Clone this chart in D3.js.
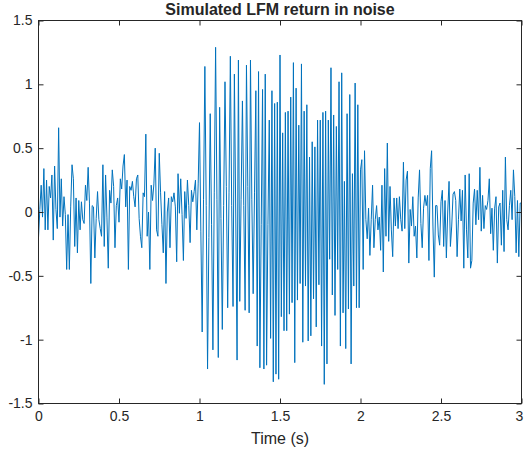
<!DOCTYPE html>
<html>
<head>
<meta charset="utf-8">
<script src="https://cdn.jsdelivr.net/npm/d3@7"></script>
<style>
  html, body { margin: 0; padding: 0; background: #fff; }
  svg { display: block; }
  text { font-family: "Liberation Sans", Arial, Helvetica, sans-serif; fill: #262626; }
</style>
</head>
<body>
<svg id="chart" width="524" height="454"></svg>
<script>
// ---- data ----
const sampleRate = 120; // samples per second
const noiseBefore = [
  -0.20,0.02,0.21,-0.04,0.34,-0.14,0.25,-0.14,0.20,
  0.11,0.29,-0.22,0.36,0.02,-0.13,0.66,-0.04,0.26,-0.11,
  0.12,-0.02,-0.45,-0.02,-0.45,0.04,0.37,0.26,-0.27,0.11,
  -0.32,0.09,-0.14,0.08,-0.06,-0.09,0.21,0.09,0.35,0.07,
  -0.56,0.05,0.04,-0.36,-0.05,0.16,-0.06,-0.13,-0.19,0.37,
  -0.27,0.29,-0.04,-0.44,0.17,0.07,0.33,0.20,-0.28,0.05,
  0.11,-0.08,0.26,0.18,0.36,0.45,0.04,0.25,-0.45,
  0.20,0.17,0.24,0.12,0.04,0.26,0.29,-0.05,-0.19,
  -0.28,0.15,0.12,0.61,-0.19,0.00,-0.45,0.21,0.09,0.22,
  0.50,-0.14,-0.19,0.46,0.15,-0.10,-0.32,0.16,-0.56,0.00,
  0.11,-0.28,0.12,0.08,0.15,0.04,-0.39,0.30,-0.01,0.26,
  -0.02,-0.38,0.16,-0.05,0.25,0.05,-0.24,0.17,0.08,0.16,
  0.25,-0.14,0.22
];
const lfmPulse = [
  0.70,-0.15,-0.94,0.10,1.14,0.05,-1.23,-0.20,0.77,-0.10,
  -1.08,0.15,1.29,0.10,-1.14,0.82,-0.05,-0.92,0.05,1.02,
  0.20,-0.75,0.15,1.22,0.05,-0.74,1.08,0.00,-1.16,1.19,
  -0.70,0.10,0.87,0.05,-0.77,1.15,0.20,-0.79,1.19,0.10,
  -0.64,0.15,0.95,-1.05,1.10,-1.22,-0.10,0.96,-1.23,1.08,
  -1.20,-0.10,0.72,-0.99,0.95,-1.33,0.85,-1.27,0.86,-1.31,
  1.23,-0.82,0.62,-0.93,0.78,-0.93,0.79,-0.80,0.90,-0.71,
  1.17,-1.18,0.97,-0.69,0.68,-0.56,1.16,-1.02,0.79,-0.58,
  0.84,-1.01,0.43,-0.97,0.55,-0.68,0.51,-0.90,0.72,-0.57,
  0.72,-1.05,0.78,-1.35,0.79,-1.19,0.72,-0.37,1.13,-0.65,
  0.76,-0.81,0.67,-0.45,1.02,-1.05,1.09,-0.79,0.24,-1.07,
  0.77,-0.76,0.92,-1.19,0.30,-0.58,1.01,-0.75,0.84,-0.75
];
const noiseAfter = [
  0.33,0.41,-0.45,0.48,-0.06,-0.21,0.03,-0.34,-0.06,
  0.21,-0.28,-0.06,0.05,-0.14,-0.04,-0.30,0.21,-0.47,0.34,
  -0.19,0.54,-0.23,0.20,-0.14,-0.35,0.11,-0.11,0.11,-0.13,
  0.12,-0.06,-0.15,0.39,-0.13,0.25,0.32,-0.40,0.02,-0.11,
  0.12,-0.19,-0.11,-0.36,0.11,0.33,-0.09,-0.28,0.03,
  0.13,0.05,0.13,-0.38,0.34,0.48,-0.11,-0.51,0.05,
  0.05,-0.18,-0.26,0.08,0.17,-0.27,0.09,-0.36,0.00,
  0.24,-0.27,-0.11,0.14,0.16,0.09,-0.35,-0.06,0.18,
  -0.07,0.17,-0.44,0.29,-0.14,-0.36,0.30,-0.44,-0.38,0.07,
  0.18,-0.10,0.17,-0.06,0.35,-0.15,0.13,-0.13,0.05,
  0.02,0.09,0.26,-0.17,0.03,-0.30,0.03,0.12,-0.40,0.04,
  0.07,-0.26,0.17,-0.31,0.43,-0.06,-0.14,0.05,0.17,-0.06,
  0.33,0.12,-0.32,0.09,-0.35,0.07,0.07
];
const xTickValues = [0, 0.5, 1, 1.5, 2, 2.5, 3];
const xTickLabels = ["0", "0.5", "1", "1.5", "2", "2.5", "3"];
const yTickValues = [-1.5, -1, -0.5, 0, 0.5, 1, 1.5];
const yTickLabels = ["-1.5", "-1", "-0.5", "0", "0.5", "1", "1.5"];
const titleText = "Simulated LFM return in noise";
const xLabelText = "Time (s)";

(function () {
  const signal = noiseBefore.concat(lfmPulse, noiseAfter);
  const points = signal.map((v, i) => ({ t: i / sampleRate, v }));

  const svg = d3.select("#chart");
  const W = 524;
  const mLeft = 38.5, mRight = 521.5, mTop = 20.5, mBottom = 403.5;
  const axisColor = "#262626";

  const x = d3.scaleLinear().domain([0, 3]).range([mLeft, mRight]);
  const y = d3.scaleLinear().domain([-1.5, 1.5]).range([mBottom, mTop]);

  const line = d3.line().x(d => x(d.t)).y(d => y(d.v));
  svg.append("path")
    .datum(points)
    .attr("fill", "none")
    .attr("stroke", "#0072BD")
    .attr("stroke-width", 1)
    .attr("stroke-linejoin", "round")
    .attr("d", line);

  function styleAxis(g) {
    g.select(".domain").remove();
    g.selectAll(".tick line").attr("stroke", axisColor).attr("stroke-width", 1);
    g.selectAll(".tick text").attr("font-size", "14px").attr("fill", axisColor)
      .attr("font-family", '"Liberation Sans", Arial, sans-serif');
  }
  const xLabelMap = new Map(xTickValues.map((v, i) => [v, xTickLabels[i]]));
  const yLabelMap = new Map(yTickValues.map((v, i) => [v, yTickLabels[i]]));

  const gx = svg.append("g").attr("transform", `translate(0,${mBottom})`)
    .call(d3.axisBottom(x).tickValues(xTickValues).tickSizeInner(-5).tickSizeOuter(0)
      .tickPadding(8).tickFormat(d => xLabelMap.get(d)))
    .call(styleAxis);
  // keep the last label inside the canvas edge
  gx.selectAll(".tick text").each(function () {
    const bb = this.getBBox();
    const tr = this.parentNode.getAttribute("transform");
    const tx = +/translate\(([-\d.]+)/.exec(tr)[1];
    const over = tx + bb.x + bb.width - W;
    if (over > 0) d3.select(this).attr("dx", -over - 0.5);
  });
  svg.append("g").attr("transform", `translate(0,${mTop})`)
    .call(d3.axisTop(x).tickValues(xTickValues).tickSizeInner(-5).tickSizeOuter(0).tickFormat(""))
    .call(styleAxis);
  svg.append("g").attr("transform", `translate(${mLeft},0)`)
    .call(d3.axisLeft(y).tickValues(yTickValues).tickSizeInner(-5).tickSizeOuter(0)
      .tickPadding(6).tickFormat(d => yLabelMap.get(d)))
    .call(styleAxis);
  svg.append("g").attr("transform", `translate(${mRight},0)`)
    .call(d3.axisRight(y).tickValues(yTickValues).tickSizeInner(-5).tickSizeOuter(0).tickFormat(""))
    .call(styleAxis);

  svg.append("rect")
    .attr("x", mLeft).attr("y", mTop)
    .attr("width", mRight - mLeft).attr("height", mBottom - mTop)
    .attr("fill", "none").attr("stroke", axisColor).attr("stroke-width", 1);

  svg.append("text")
    .attr("x", (mLeft + mRight) / 2).attr("y", 14.5)
    .attr("text-anchor", "middle")
    .attr("font-size", "16px").attr("font-weight", "bold")
    .text(titleText);
  svg.append("text")
    .attr("x", (mLeft + mRight) / 2).attr("y", 444)
    .attr("text-anchor", "middle")
    .attr("font-size", "16px")
    .text(xLabelText);
})();
</script>
</body>
</html>
